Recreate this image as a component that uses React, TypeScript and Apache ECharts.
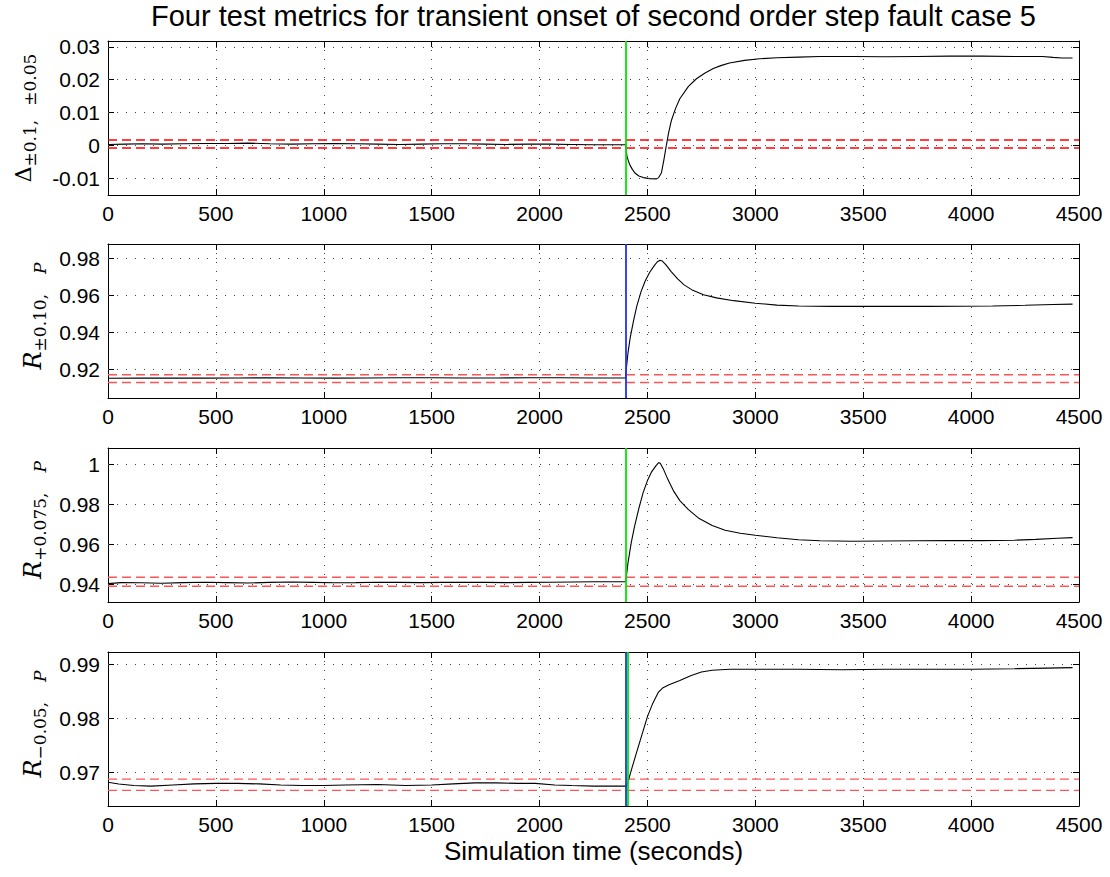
import React, { useEffect, useRef } from 'react';
import * as echarts from 'echarts';

// ---------- data ----------
const xMin = 0;
const xMax = 4500;
const xStep = 500;
const faultTime = 2400;
const detectTime = 2410;

const deltaData: [number, number][] = [
  [0, 0.0003], [80, 0.0004], [160, 0.0005], [250, 0.0004], [350, 0.0005], [450, 0.0006], [550, 0.0006],
  [650, 0.0007], [750, 0.0005], [850, 0.0004], [950, 0.0005], [1050, 0.0006], [1150, 0.0005], [1250, 0.0004],
  [1350, 0.0003], [1450, 0.0004], [1550, 0.0005], [1650, 0.0005], [1750, 0.0004], [1850, 0.0003], [1950, 0.0004],
  [2050, 0.0004], [2150, 0.0003], [2250, 0.0002], [2350, 0.0002], [2398, 0.0002],
  [2402, -0.002], [2406, -0.0035], [2412, -0.0048], [2419, -0.006], [2430, -0.0073], [2442, -0.0084], [2460, -0.0093],
  [2481, -0.0098], [2510, -0.0101], [2543, -0.0102], [2552, -0.0098], [2565, -0.0083], [2576, -0.0045], [2586, -0.0006],
  [2598, 0.0038], [2611, 0.0076], [2630, 0.0112], [2650, 0.0142], [2690, 0.018], [2727, 0.0203], [2765, 0.022],
  [2805, 0.0234], [2840, 0.0243], [2880, 0.0251], [2950, 0.0259], [3020, 0.0264], [3100, 0.0267], [3200, 0.0269],
  [3300, 0.0271], [3450, 0.0271], [3600, 0.027], [3750, 0.0271], [3900, 0.0272], [4050, 0.0272], [4200, 0.0271],
  [4330, 0.0271], [4380, 0.0268], [4420, 0.0266], [4470, 0.0266],
];

const r10Data: [number, number][] = [
  [0, 0.915], [150, 0.9151], [300, 0.9152], [450, 0.9151], [600, 0.9152], [750, 0.9153], [900, 0.9152],
  [1050, 0.9151], [1200, 0.9152], [1350, 0.9153], [1500, 0.9153], [1650, 0.9152], [1800, 0.9152], [1950, 0.9153],
  [2100, 0.9153], [2250, 0.9152], [2398, 0.9152],
  [2402, 0.92], [2410, 0.929], [2420, 0.937], [2435, 0.946], [2450, 0.954], [2470, 0.962], [2490, 0.968],
  [2510, 0.9725], [2530, 0.976], [2545, 0.9782], [2558, 0.9792], [2568, 0.9788], [2585, 0.9768], [2610, 0.973],
  [2640, 0.969], [2670, 0.9658], [2710, 0.9628], [2760, 0.9604], [2820, 0.9587], [2900, 0.9572], [3000, 0.9558],
  [3100, 0.9548], [3200, 0.9543], [3350, 0.9541], [3500, 0.9541], [3650, 0.9542], [3800, 0.9541], [3950, 0.9542],
  [4100, 0.9543], [4250, 0.9547], [4380, 0.9551], [4470, 0.9553],
];

const r075Data: [number, number][] = [
  [0, 0.9405], [60, 0.941], [150, 0.9409], [250, 0.9407], [350, 0.941], [450, 0.9412], [550, 0.941],
  [650, 0.9408], [750, 0.9411], [850, 0.9413], [950, 0.9411], [1050, 0.9409], [1150, 0.941], [1250, 0.9412],
  [1350, 0.9411], [1450, 0.941], [1550, 0.9411], [1650, 0.9412], [1750, 0.9411], [1850, 0.941], [1950, 0.9411],
  [2050, 0.9412], [2150, 0.9413], [2250, 0.9414], [2350, 0.9414], [2398, 0.9414],
  [2402, 0.944], [2410, 0.951], [2425, 0.961], [2440, 0.969], [2460, 0.978], [2480, 0.986], [2500, 0.992],
  [2520, 0.9965], [2540, 0.9995], [2552, 1.001], [2560, 1.0006], [2575, 0.9975], [2595, 0.9925], [2620, 0.987],
  [2650, 0.982], [2690, 0.9775], [2740, 0.973], [2800, 0.9695], [2860, 0.9672], [2930, 0.9657], [3000, 0.9647],
  [3100, 0.9634], [3200, 0.9624], [3300, 0.9619], [3450, 0.9617], [3600, 0.9618], [3750, 0.9619], [3900, 0.962],
  [4050, 0.962], [4200, 0.9622], [4300, 0.9626], [4400, 0.9632], [4470, 0.9635],
];

const r05Data: [number, number][] = [
  [0, 0.9681], [50, 0.9678], [120, 0.9675], [200, 0.9674], [300, 0.9676], [400, 0.9678], [500, 0.9679],
  [600, 0.9679], [700, 0.9678], [800, 0.9676], [900, 0.9675], [1000, 0.9675], [1100, 0.9676], [1250, 0.9677],
  [1380, 0.9675], [1500, 0.9676], [1600, 0.9678], [1700, 0.968], [1800, 0.968], [1900, 0.9679], [1980, 0.9679],
  [2070, 0.9676], [2150, 0.9675], [2250, 0.9674], [2333, 0.9674], [2398, 0.9674],
  [2402, 0.9672], [2410, 0.9682], [2430, 0.971], [2450, 0.9737], [2475, 0.977], [2500, 0.9803], [2525, 0.9828],
  [2550, 0.9848], [2570, 0.9856], [2600, 0.9862], [2650, 0.987], [2700, 0.9879], [2750, 0.9886], [2800, 0.9889],
  [2880, 0.9891], [3000, 0.9891], [3200, 0.9891], [3400, 0.989], [3600, 0.9891], [3800, 0.9891], [4000, 0.9891],
  [4200, 0.9892], [4350, 0.9893], [4470, 0.9894],
];

const deltaBand = [0.00165, -0.0008];
const r10Band = [0.9169, 0.9127];
const r075Band = [0.9437, 0.9392];
const r05Band = [0.9687, 0.9666];

const deltaTicks = [-0.01, 0, 0.01, 0.02, 0.03];
const r10Ticks = [0.92, 0.94, 0.96, 0.98];
const r075Ticks = [0.94, 0.96, 0.98, 1];
const r05Ticks = [0.97, 0.98, 0.99];

const deltaRange = [-0.0151, 0.0318];
const r10Range = [0.9043, 0.988];
const r075Range = [0.9313, 1.0083];
const r05Range = [0.9637, 0.9923];

const titleText = 'Four test metrics for transient onset of second order step fault case 5';
const xLabelText = 'Simulation time (seconds)';

// ---------- styles ----------
const SANS = '"Liberation Sans", Arial, Helvetica, sans-serif';
const SERIF = '"DejaVu Serif", "Liberation Serif", serif';
const GREEN = '#00e600';
const BLUE = '#1f2fff';
const GRID_TOPS = [41, 244, 448, 652];
const GRID_H = 154;
const GRID_LEFT = 108;
const GRID_W = 971;

const rich = {
  o: { width: 10, lineHeight: 30, verticalAlign: 'middle' },
  d: { fontFamily: SERIF, fontSize: 22, lineHeight: 30, verticalAlign: 'middle', color: '#000' },
  r: { fontFamily: SERIF, fontSize: 24, fontStyle: 'italic', lineHeight: 30, verticalAlign: 'middle', color: '#000' },
  s: { fontFamily: SERIF, fontSize: 17, lineHeight: 17, verticalAlign: 'bottom', color: '#000' },
  g: { width: 14, lineHeight: 17, verticalAlign: 'bottom' },
  h: { width: 20, lineHeight: 17, verticalAlign: 'bottom' },
  p: { fontFamily: SERIF, fontSize: 17, fontStyle: 'italic', lineHeight: 17, verticalAlign: 'bottom', color: '#000' },
};

const panels = [
  { data: deltaData, range: deltaRange, ticks: deltaTicks, band: deltaBand, bandColor: '#ff0000',
    marks: [{ t: faultTime, c: GREEN }], name: '{d|Δ}{s|±0.1,}{g|}{s|±0.05}', nameGap: 70 },
  { data: r10Data, range: r10Range, ticks: r10Ticks, band: r10Band, bandColor: '#ff5555',
    marks: [{ t: faultTime, c: BLUE }], name: '{o|}{r|R}{s|±0.10,}{h|}{p|P}', nameGap: 60 },
  { data: r075Data, range: r075Range, ticks: r075Ticks, band: r075Band, bandColor: '#ff5555',
    marks: [{ t: faultTime, c: GREEN }], name: '{o|}{r|R}{s|+0.075,}{h|}{p|P}', nameGap: 60 },
  { data: r05Data, range: r05Range, ticks: r05Ticks, band: r05Band, bandColor: '#ff5555',
    marks: [{ t: faultTime, c: BLUE }, { t: detectTime, c: GREEN }], name: '{o|}{r|R}{s|−0.05,}{h|}{p|P}', nameGap: 60 },
];

const fmtY = (v: number) => String(parseFloat(v.toFixed(4)));
const fmtX = (v: number) => String(Math.round(v));

export default function App() {
  const ref = useRef<HTMLDivElement>(null);
  useEffect(() => {
    document.body.style.margin = '0';
    const chart = echarts.init(ref.current!, null, { renderer: 'svg' });
    const grid: any[] = [];
    const xAxis: any[] = [];
    const yAxis: any[] = [];
    const series: any[] = [];
    const axisLine = { show: true, onZero: false, lineStyle: { color: '#000', width: 1 } };
    const tick = { show: true, inside: true, length: 6, lineStyle: { color: '#000', width: 1 } };
    const dotted = { color: '#444', width: 1, type: [1, 8] };
    panels.forEach((p, i) => {
      grid.push({ left: GRID_LEFT, top: GRID_TOPS[i], width: GRID_W, height: GRID_H });
      xAxis.push({
        gridIndex: i, type: 'value', min: xMin, max: xMax, interval: xStep, position: 'bottom',
        axisLine, axisTick: tick,
        axisLabel: { show: true, margin: 8, fontSize: 21, fontFamily: SANS, color: '#000', formatter: fmtX },
        splitLine: { show: true, lineStyle: dotted },
      });
      xAxis.push({
        gridIndex: i, type: 'value', min: xMin, max: xMax, interval: xStep, position: 'top',
        axisLine, axisTick: tick, axisLabel: { show: false }, splitLine: { show: false },
      });
      yAxis.push({
        gridIndex: i, type: 'value', min: p.range[0], max: p.range[1], position: 'left',
        axisLine,
        axisTick: { ...tick, customValues: p.ticks },
        axisLabel: { show: true, customValues: p.ticks, formatter: fmtY, margin: 8, fontSize: 21, fontFamily: SANS, color: '#000' },
        splitLine: { show: false },
        name: p.name, nameLocation: 'middle', nameRotate: 90, nameGap: p.nameGap,
        nameTextStyle: { rich },
      });
      yAxis.push({
        gridIndex: i, type: 'value', min: p.range[0], max: p.range[1], position: 'right',
        axisLine,
        axisTick: { ...tick, customValues: p.ticks },
        axisLabel: { show: false }, splitLine: { show: false },
      });
      p.band.forEach((v) => {
        series.push({
          type: 'line', xAxisIndex: 2 * i, yAxisIndex: 2 * i, symbol: 'none', silent: true, z: 3,
          data: [[xMin, v], [xMax, v]],
          lineStyle: { color: p.bandColor, width: 1.4, type: [9, 5] },
        });
      });
      series.push({
        type: 'line', xAxisIndex: 2 * i, yAxisIndex: 2 * i, symbol: 'none', silent: true, z: 4,
        data: p.data,
        lineStyle: { color: '#000', width: 1.1 },
        markLine: {
          silent: true, symbol: ['none', 'none'], label: { show: false },
          data: [
            ...p.ticks.map((v) => ({ yAxis: v, lineStyle: dotted })),
            ...p.marks.map((m) => ({ xAxis: m.t, lineStyle: { color: m.c, width: 1.8, type: 'solid' } })),
          ],
        },
      });
    });
    chart.setOption({
      animation: false,
      backgroundColor: '#fff',
      grid, xAxis, yAxis, series,
      graphic: [
        { type: 'text', x: GRID_LEFT + GRID_W / 2, y: 16,
          style: { text: titleText, fontSize: 29, fontFamily: SANS, fill: '#000', textAlign: 'center', textVerticalAlign: 'middle' } },
        { type: 'text', x: GRID_LEFT + GRID_W / 2, y: 851,
          style: { text: xLabelText, fontSize: 26, fontFamily: SANS, fill: '#000', textAlign: 'center', textVerticalAlign: 'middle' } },
      ],
    });
    return () => chart.dispose();
  }, []);
  return <div ref={ref} style={{ width: 1110, height: 877 }} />;
}
